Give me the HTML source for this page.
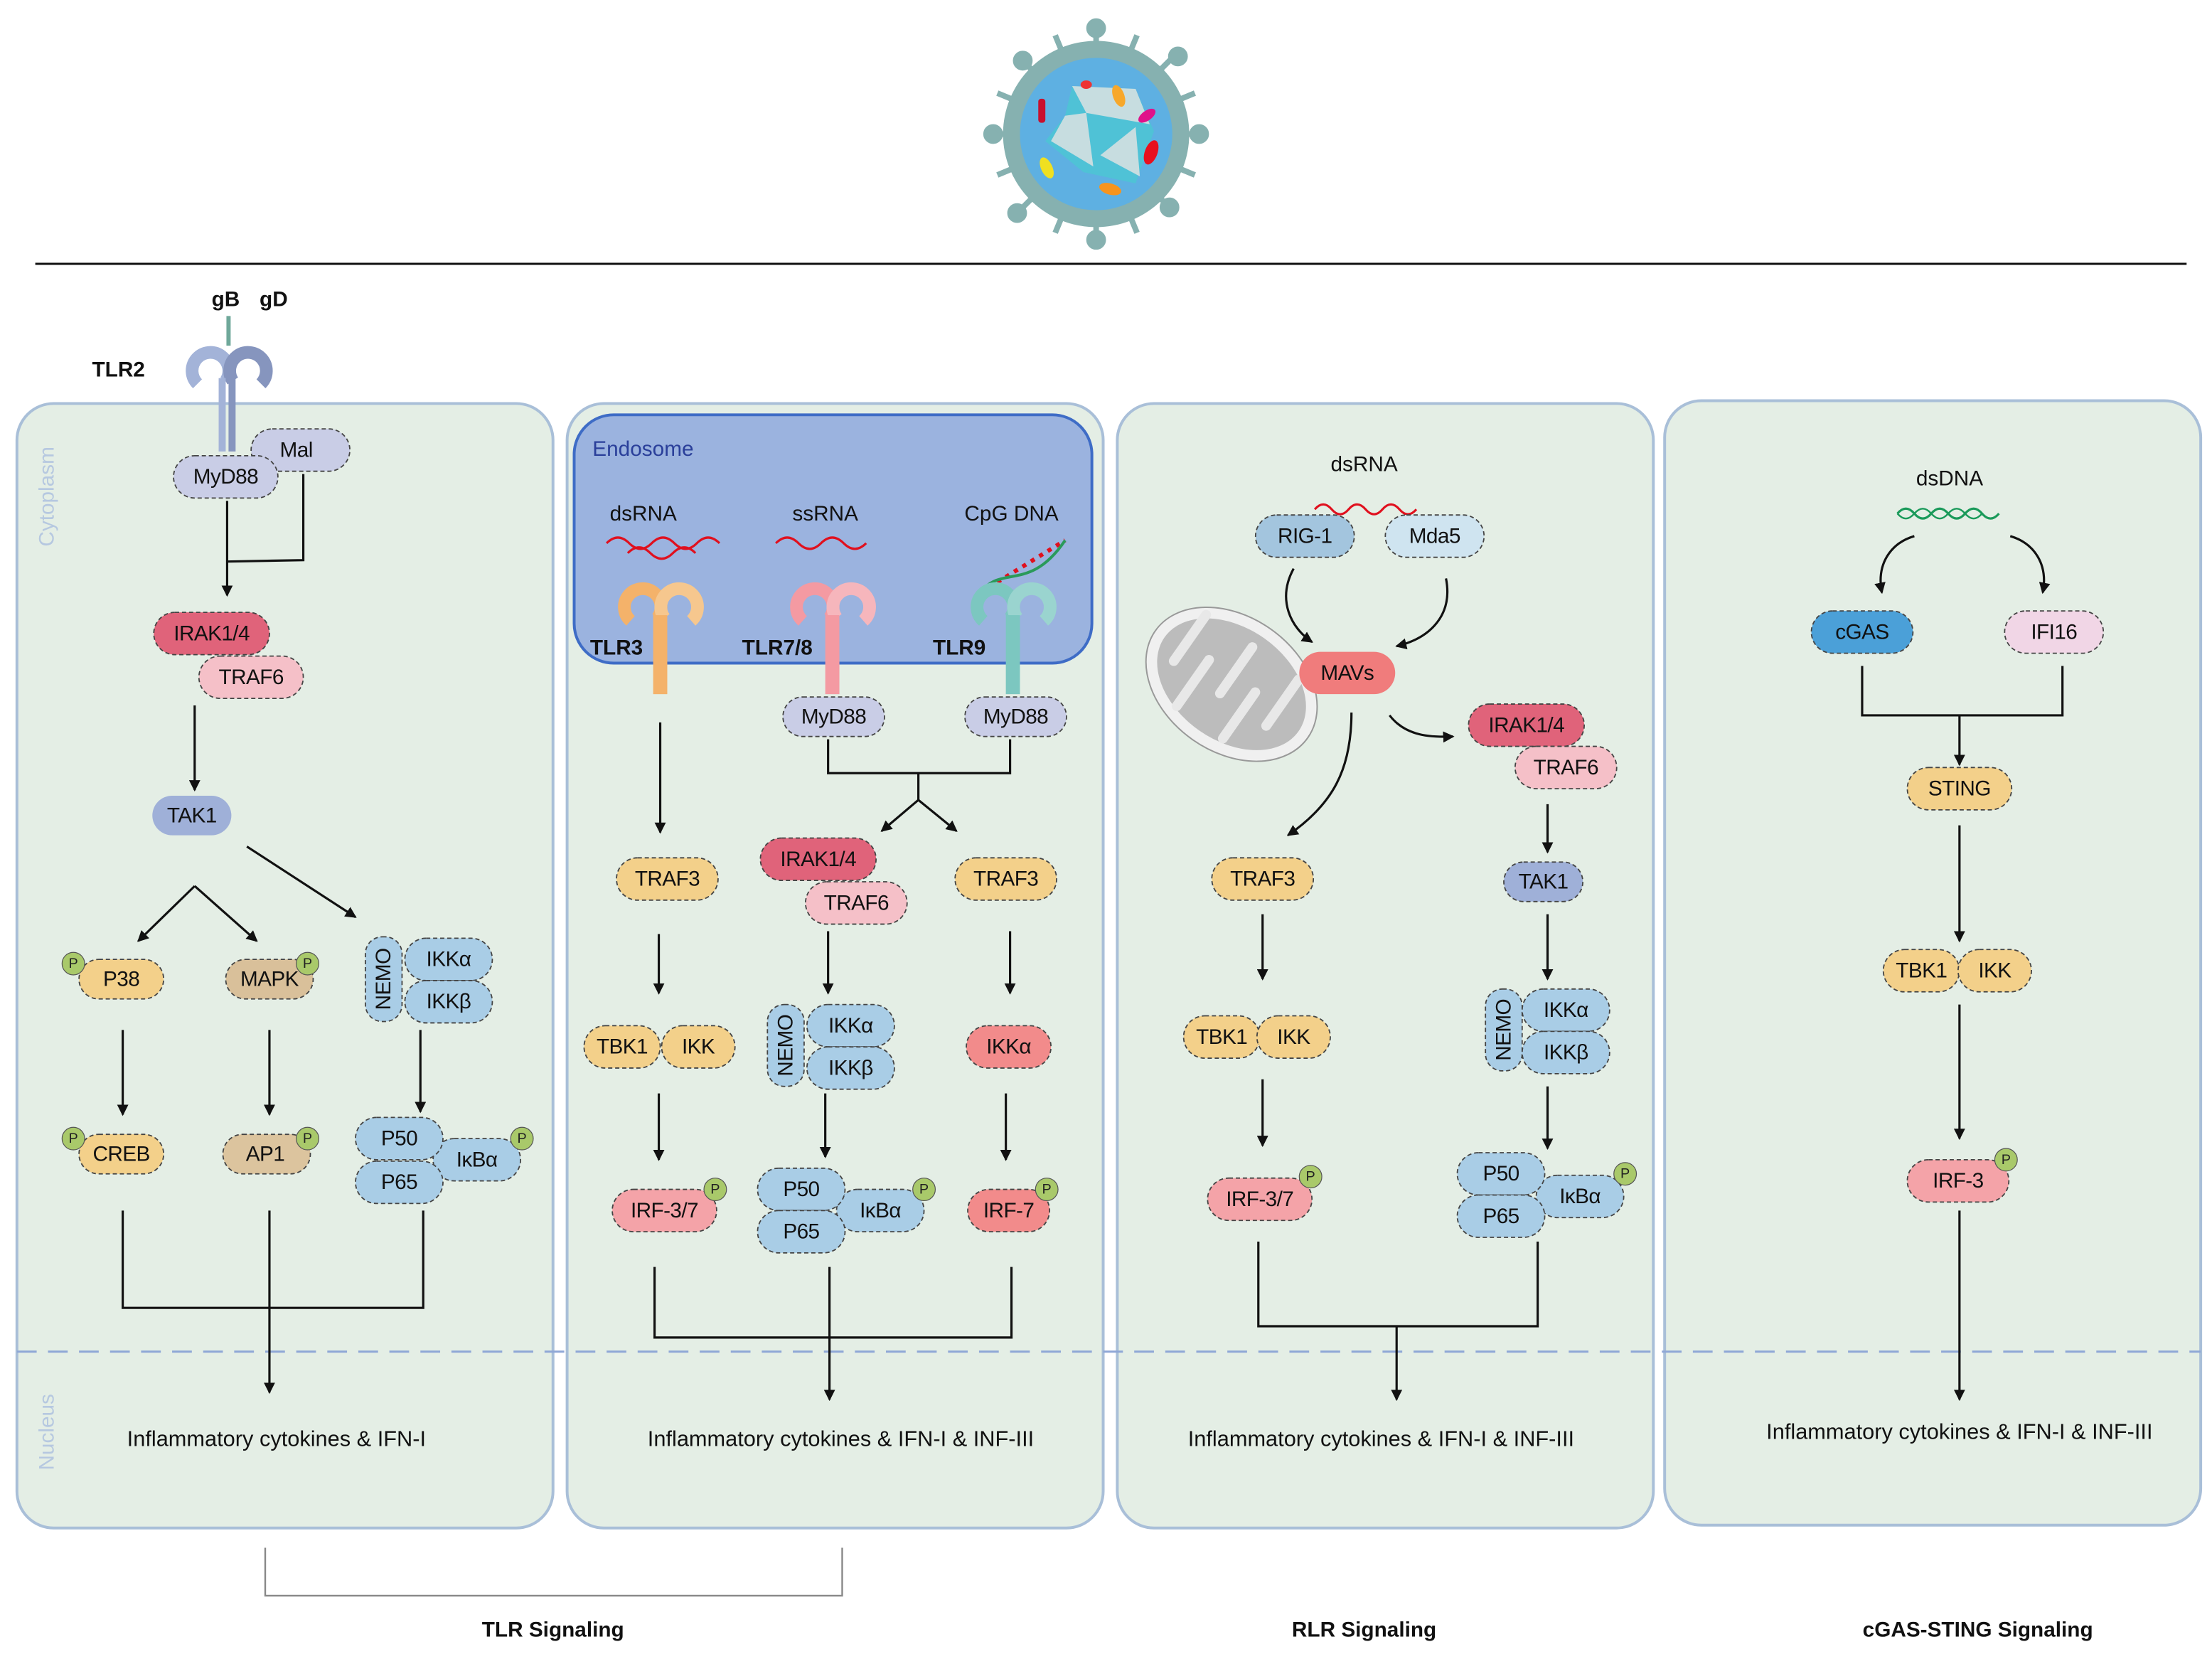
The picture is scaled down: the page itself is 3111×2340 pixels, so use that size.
<!DOCTYPE html>
<html><head><meta charset="utf-8">
<style>
html,body{margin:0;padding:0;background:#fff;}
svg{display:block;}
text{font-family:"Liberation Sans",sans-serif;}
.t{font-size:15px;fill:#111;text-anchor:middle;dominant-baseline:central;letter-spacing:-0.3px;}
.pill{stroke:#444;stroke-width:0.9;stroke-dasharray:3 2;}
.ln{stroke:#111;stroke-width:1.6;fill:none;}
.p{fill:#a9c96a;stroke:#555;stroke-width:0.6;}
.pt{font-size:10px;fill:#222;text-anchor:middle;dominant-baseline:central;}
.bt{font-size:15px;fill:#111;text-anchor:middle;font-weight:bold;}
.ot{font-size:15.5px;fill:#111;text-anchor:middle;}
</style></head><body>
<svg width="3111" height="2340" viewBox="0 0 1568 1179.4" preserveAspectRatio="none" xmlns="http://www.w3.org/2000/svg">
<defs>
<marker id="a" markerWidth="8" markerHeight="8" refX="7" refY="4" orient="auto" markerUnits="userSpaceOnUse"><path d="M0,0 L8,4 L0,8 z" fill="#111"/></marker>
</defs>
<rect width="1568" height="1180" fill="#fff"/>

<!-- virus -->
<g>
<g stroke="#86b1b0" stroke-width="4" fill="#86b1b0">
<line x1="777" y1="95" x2="777" y2="18"/><circle cx="777" cy="20" r="5"/>
<line x1="777" y1="95" x2="777" y2="172"/><circle cx="777" cy="170" r="5"/>
<line x1="777" y1="95" x2="700" y2="95"/><circle cx="704" cy="95" r="5"/>
<line x1="777" y1="95" x2="852" y2="95"/><circle cx="850" cy="95" r="5"/>
<line x1="777" y1="95" x2="723" y2="41"/><circle cx="725" cy="43" r="5"/>
<line x1="777" y1="95" x2="831" y2="149"/><circle cx="829" cy="147" r="5"/>
<line x1="777" y1="95" x2="831" y2="41"/><circle cx="835" cy="40" r="5"/>
<line x1="777" y1="95" x2="723" y2="149"/><circle cx="721" cy="151" r="5"/>
<line x1="777" y1="95" x2="748" y2="25"/><line x1="777" y1="95" x2="806" y2="25"/>
<line x1="777" y1="95" x2="748" y2="165"/><line x1="777" y1="95" x2="806" y2="165"/>
<line x1="777" y1="95" x2="707" y2="66"/><line x1="777" y1="95" x2="707" y2="124"/>
<line x1="777" y1="95" x2="847" y2="66"/><line x1="777" y1="95" x2="847" y2="124"/>
</g>
<circle cx="777" cy="95" r="66" fill="#86b1b0"/>
<circle cx="777" cy="95" r="54" fill="#5eb0e2"/>
<polygon points="760,61 805,63 818,93 805,130 768,122 741,100 755,82" fill="#4fc2d6"/>
<polygon points="760,61 805,63 815,88 770,80" fill="#c7dde0"/>
<polygon points="755,82 770,80 775,118 745,100" fill="#c7dde0"/>
<polygon points="780,110 805,90 808,125" fill="#c7dde0"/>
<rect x="736" y="70" width="5" height="17" rx="2" fill="#c8102e"/>
<ellipse cx="770" cy="60" rx="4" ry="3" fill="#e33"/>
<ellipse cx="793" cy="68" rx="4" ry="8" fill="#f7a82b" transform="rotate(-20 793 68)"/>
<ellipse cx="813" cy="82" rx="7" ry="3.5" fill="#e0118a" transform="rotate(-35 813 82)"/>
<ellipse cx="816" cy="108" rx="4.5" ry="9" fill="#e8101e" transform="rotate(20 816 108)"/>
<ellipse cx="742" cy="119" rx="4" ry="8" fill="#f0e020" transform="rotate(-25 742 119)"/>
<ellipse cx="787" cy="134" rx="8" ry="4" fill="#f7941d" transform="rotate(15 787 134)"/>
</g>
<line x1="25" y1="187" x2="1550" y2="187" stroke="#111" stroke-width="1.5"/>

<!-- panels -->
<g fill="#e4eee5" stroke="#a9bfd8" stroke-width="2">
<rect x="12" y="286" width="380" height="797" rx="26"/>
<rect x="402" y="286" width="380" height="797" rx="26"/>
<rect x="792" y="286" width="380" height="797" rx="26"/>
<rect x="1180" y="284" width="380" height="797" rx="26"/>
</g>
<line x1="12" y1="958" x2="1560" y2="958" stroke="#8fa7d6" stroke-width="1.5" stroke-dasharray="14 8"/>
<text transform="translate(38,352) rotate(-90)" style="font-size:15px;fill:#b6c8e0;text-anchor:middle">Cytoplasm</text>
<text transform="translate(38,1015) rotate(-90)" style="font-size:15px;fill:#b6c8e0;text-anchor:middle">Nucleus</text>

<!-- endosome -->
<rect x="407" y="294" width="367" height="176" rx="28" fill="#9bb3df" stroke="#3e6cc6" stroke-width="2"/>
<text x="420" y="323" style="font-size:15px;fill:#2a3f9a">Endosome</text>

<!-- Panel 1 -->
<text x="160" y="217" class="bt">gB</text><text x="194" y="217" class="bt">gD</text>
<text x="84" y="267" class="bt">TLR2</text>
<line x1="162" y1="224" x2="162" y2="245" stroke="#6fa89a" stroke-width="3"/>
<g fill="none" stroke-width="9">
<path d="M140,272 A13,13 0 1 1 160,270" stroke="#a3b3d8"/>
<path d="M165,270 A13,13 0 1 1 185,272" stroke="#8695be"/>
</g>
<rect x="155" y="268" width="5" height="52" fill="#a3b3d8"/><rect x="162" y="268" width="5" height="52" fill="#8695be"/>
<rect x="178" y="304" width="70" height="30" rx="15" fill="#c9cde6" class="pill"/><text x="210" y="319" class="t">Mal</text>
<rect x="123" y="323" width="74" height="30" rx="15" fill="#c9cde6" class="pill"/><text x="160" y="338" class="t">MyD88</text>
<line x1="161" y1="355" x2="161" y2="422" class="ln" marker-end="url(#a)"/>
<polyline points="215,336 215,397 161,398" class="ln"/>
<rect x="109" y="434" width="82" height="30" rx="15" fill="#e0637a" class="pill"/><text x="150" y="449" class="t">IRAK1/4</text>
<rect x="141" y="465" width="74" height="30" rx="15" fill="#f5c0c8" class="pill"/><text x="178" y="480" class="t">TRAF6</text>
<line x1="138" y1="500" x2="138" y2="560" class="ln" marker-end="url(#a)"/>
<rect x="108" y="564" width="56" height="28" rx="14" fill="#9fb0d8"/><text x="136" y="578" class="t">TAK1</text>
<line x1="138" y1="628" x2="98" y2="667" class="ln" marker-end="url(#a)"/>
<line x1="138" y1="628" x2="182" y2="667" class="ln" marker-end="url(#a)"/>
<line x1="175" y1="600" x2="252" y2="650" class="ln" marker-end="url(#a)"/>
<rect x="56" y="680" width="60" height="28" rx="14" fill="#f3d08a" class="pill"/><text x="86" y="694" class="t">P38</text>
<circle cx="52" cy="683" r="8" class="p"/><text x="52" y="683" class="pt">P</text>
<rect x="160" y="680" width="62" height="28" rx="14" fill="#d9c09a" class="pill"/><text x="191" y="694" class="t">MAPK</text>
<circle cx="218" cy="683" r="8" class="p"/><text x="218" y="683" class="pt">P</text>
<rect x="259" y="664" width="26" height="60" rx="12" fill="#a9cde6" class="pill"/>
<text transform="translate(272,694) rotate(-90)" class="t">NEMO</text>
<rect x="287" y="665" width="62" height="30" rx="15" fill="#a9cde6" class="pill"/><text x="318" y="680" class="t">IKKα</text>
<rect x="287" y="695" width="62" height="30" rx="15" fill="#a9cde6" class="pill"/><text x="318" y="710" class="t">IKKβ</text>
<line x1="87" y1="730" x2="87" y2="790" class="ln" marker-end="url(#a)"/>
<line x1="191" y1="730" x2="191" y2="790" class="ln" marker-end="url(#a)"/>
<line x1="298" y1="730" x2="298" y2="788" class="ln" marker-end="url(#a)"/>
<rect x="56" y="804" width="60" height="28" rx="14" fill="#f3d08a" class="pill"/><text x="86" y="818" class="t">CREB</text>
<circle cx="52" cy="807" r="8" class="p"/><text x="52" y="807" class="pt">P</text>
<rect x="158" y="804" width="62" height="28" rx="14" fill="#dcc49e" class="pill"/><text x="188" y="818" class="t">AP1</text>
<circle cx="218" cy="807" r="8" class="p"/><text x="218" y="807" class="pt">P</text>
<rect x="307" y="807" width="62" height="30" rx="15" fill="#a9cde6" class="pill"/><text x="338" y="822" class="t">IκBα</text>
<rect x="252" y="792" width="62" height="30" rx="15" fill="#a9cde6" class="pill"/><text x="283" y="807" class="t">P50</text>
<rect x="252" y="823" width="62" height="30" rx="15" fill="#a9cde6" class="pill"/><text x="283" y="838" class="t">P65</text>
<circle cx="370" cy="807" r="8" class="p"/><text x="370" y="807" class="pt">P</text>
<polyline points="87,858 87,927 300,927 300,858" class="ln"/>
<line x1="191" y1="858" x2="191" y2="987" class="ln" marker-end="url(#a)"/>
<text x="196" y="1025" class="ot">Inflammatory cytokines &amp; IFN-I</text>

<!-- Panel 2 -->
<text x="456" y="369" class="bt" style="font-weight:normal">dsRNA</text>
<text x="585" y="369" class="bt" style="font-weight:normal">ssRNA</text>
<text x="717" y="369" class="bt" style="font-weight:normal">CpG DNA</text>
<path d="M430,385 q8,-8 16,0 t16,0 t16,0 t16,0 t16,0 M445,392 q8,-8 16,0 t16,0 t16,0" stroke="#e0101e" stroke-width="1.6" fill="none"/>
<path d="M550,385 q8,-8 16,0 t16,0 t16,0 t16,0" stroke="#e0101e" stroke-width="1.6" fill="none"/>
<path d="M695,420 L755,383" stroke="#e0101e" stroke-width="3" stroke-dasharray="3 4"/>
<path d="M695,420 C710,400 730,420 755,383" stroke="#2a9a5a" stroke-width="2" fill="none"/>
<g fill="none" stroke-width="9">
<path d="M447,440 A13,13 0 1 1 466,438" stroke="#f4b26a"/><path d="M471,438 A13,13 0 1 1 490,440" stroke="#f6c78e"/>
<path d="M569,440 A13,13 0 1 1 588,438" stroke="#f49aa2"/><path d="M593,438 A13,13 0 1 1 612,440" stroke="#f6b6bc"/>
<path d="M697,440 A13,13 0 1 1 716,438" stroke="#7cc7c0"/><path d="M721,438 A13,13 0 1 1 740,440" stroke="#9ad4cf"/>
</g>
<rect x="463" y="436" width="10" height="56" fill="#f4b26a"/><rect x="585" y="436" width="10" height="56" fill="#f49aa2"/><rect x="713" y="436" width="10" height="56" fill="#7cc7c0"/>
<text x="437" y="464" class="bt">TLR3</text><text x="551" y="464" class="bt">TLR7/8</text><text x="680" y="464" class="bt">TLR9</text>
<line x1="468" y1="512" x2="468" y2="590" class="ln" marker-end="url(#a)"/>
<rect x="555" y="494" width="72" height="28" rx="14" fill="#c9cde6" class="pill"/><text x="591" y="508" class="t">MyD88</text>
<rect x="684" y="494" width="72" height="28" rx="14" fill="#c9cde6" class="pill"/><text x="720" y="508" class="t">MyD88</text>
<polyline points="587,524 587,548 716,548 716,524" class="ln"/>
<line x1="651" y1="548" x2="651" y2="567" class="ln"/>
<line x1="651" y1="567" x2="625" y2="589" class="ln" marker-end="url(#a)"/>
<line x1="651" y1="567" x2="678" y2="589" class="ln" marker-end="url(#a)"/>
<rect x="437" y="608" width="72" height="30" rx="15" fill="#f3d08a" class="pill"/><text x="473" y="623" class="t">TRAF3</text>
<rect x="539" y="594" width="82" height="30" rx="15" fill="#e0637a" class="pill"/><text x="580" y="609" class="t">IRAK1/4</text>
<rect x="571" y="625" width="72" height="30" rx="15" fill="#f5c0c8" class="pill"/><text x="607" y="640" class="t">TRAF6</text>
<rect x="677" y="608" width="72" height="30" rx="15" fill="#f3d08a" class="pill"/><text x="713" y="623" class="t">TRAF3</text>
<line x1="467" y1="662" x2="467" y2="704" class="ln" marker-end="url(#a)"/>
<line x1="587" y1="660" x2="587" y2="704" class="ln" marker-end="url(#a)"/>
<line x1="716" y1="660" x2="716" y2="704" class="ln" marker-end="url(#a)"/>
<rect x="414" y="727" width="54" height="30" rx="15" fill="#f3d08a" class="pill"/><text x="441" y="742" class="t">TBK1</text>
<rect x="469" y="727" width="52" height="30" rx="15" fill="#f3d08a" class="pill"/><text x="495" y="742" class="t">IKK</text>
<rect x="544" y="712" width="26" height="58" rx="12" fill="#a9cde6" class="pill"/>
<text transform="translate(557,741) rotate(-90)" class="t">NEMO</text>
<rect x="572" y="712" width="62" height="30" rx="15" fill="#a9cde6" class="pill"/><text x="603" y="727" class="t">IKKα</text>
<rect x="572" y="742" width="62" height="30" rx="15" fill="#a9cde6" class="pill"/><text x="603" y="757" class="t">IKKβ</text>
<rect x="685" y="727" width="60" height="30" rx="15" fill="#f28b8b" class="pill"/><text x="715" y="742" class="t">IKKα</text>
<line x1="467" y1="775" x2="467" y2="822" class="ln" marker-end="url(#a)"/>
<line x1="585" y1="775" x2="585" y2="820" class="ln" marker-end="url(#a)"/>
<line x1="713" y1="775" x2="713" y2="822" class="ln" marker-end="url(#a)"/>
<rect x="434" y="843" width="74" height="30" rx="15" fill="#f4a3a8" class="pill"/><text x="471" y="858" class="t">IRF-3/7</text>
<circle cx="507" cy="843" r="8" class="p"/><text x="507" y="843" class="pt">P</text>
<rect x="593" y="843" width="62" height="30" rx="15" fill="#a9cde6" class="pill"/><text x="624" y="858" class="t">IκBα</text>
<rect x="537" y="828" width="62" height="30" rx="15" fill="#a9cde6" class="pill"/><text x="568" y="843" class="t">P50</text>
<rect x="537" y="858" width="62" height="30" rx="15" fill="#a9cde6" class="pill"/><text x="568" y="873" class="t">P65</text>
<circle cx="655" cy="843" r="8" class="p"/><text x="655" y="843" class="pt">P</text>
<rect x="686" y="843" width="58" height="30" rx="15" fill="#f28b8b" class="pill"/><text x="715" y="858" class="t">IRF-7</text>
<circle cx="742" cy="843" r="8" class="p"/><text x="742" y="843" class="pt">P</text>
<polyline points="464,898 464,948 717,948 717,898" class="ln"/>
<line x1="588" y1="898" x2="588" y2="992" class="ln" marker-end="url(#a)"/>
<text x="596" y="1025" class="ot">Inflammatory cytokines &amp; IFN-I &amp; INF-III</text>

<!-- Panel 3 -->
<text x="967" y="334" class="bt" style="font-weight:normal">dsRNA</text>
<path d="M932,361 q6,-7 12,0 t12,0 t12,0 t12,0 t12,0 t12,0" stroke="#e0101e" stroke-width="1.6" fill="none"/>
<rect x="890" y="365" width="70" height="30" rx="15" fill="#a3c5de" class="pill"/><text x="925" y="380" class="t">RIG-1</text>
<rect x="982" y="365" width="70" height="30" rx="15" fill="#cfe4f0" class="pill"/><text x="1017" y="380" class="t">Mda5</text>
<g transform="rotate(35 873 485)">
<ellipse cx="873" cy="485" rx="66" ry="48" fill="#f0f0f0" stroke="#999" stroke-width="1"/>
<ellipse cx="873" cy="485" rx="58" ry="40" fill="#bcbcbc"/>
<path d="M830,455 v40 M850,520 v-40 M870,455 v40 M890,520 v-40 M910,455 v40" stroke="#e8e8e8" stroke-width="7" stroke-linecap="round"/>
</g>
<path d="M917,403 C905,425 915,445 930,455" class="ln" marker-end="url(#a)"/>
<path d="M1025,410 C1030,435 1015,452 990,458" class="ln" marker-end="url(#a)"/>
<rect x="921" y="462" width="68" height="30" rx="15" fill="#f07c7c"/><text x="955" y="477" class="t">MAVs</text>
<path d="M958,505 C958,545 945,570 913,592" class="ln" marker-end="url(#a)"/>
<path d="M985,507 C995,520 1010,523 1030,522" class="ln" marker-end="url(#a)"/>
<rect x="1041" y="499" width="82" height="30" rx="15" fill="#e0637a" class="pill"/><text x="1082" y="514" class="t">IRAK1/4</text>
<rect x="1074" y="529" width="72" height="30" rx="15" fill="#f5c0c8" class="pill"/><text x="1110" y="544" class="t">TRAF6</text>
<line x1="1097" y1="570" x2="1097" y2="604" class="ln" marker-end="url(#a)"/>
<rect x="1066" y="611" width="56" height="28" rx="14" fill="#9fb0d8" class="pill"/><text x="1094" y="625" class="t">TAK1</text>
<rect x="859" y="608" width="72" height="30" rx="15" fill="#f3d08a" class="pill"/><text x="895" y="623" class="t">TRAF3</text>
<line x1="895" y1="648" x2="895" y2="694" class="ln" marker-end="url(#a)"/>
<rect x="839" y="720" width="54" height="30" rx="15" fill="#f3d08a" class="pill"/><text x="866" y="735" class="t">TBK1</text>
<rect x="891" y="720" width="52" height="30" rx="15" fill="#f3d08a" class="pill"/><text x="917" y="735" class="t">IKK</text>
<line x1="895" y1="765" x2="895" y2="812" class="ln" marker-end="url(#a)"/>
<rect x="856" y="835" width="74" height="30" rx="15" fill="#f4a3a8" class="pill"/><text x="893" y="850" class="t">IRF-3/7</text>
<circle cx="929" cy="834" r="8" class="p"/><text x="929" y="834" class="pt">P</text>
<line x1="1097" y1="648" x2="1097" y2="694" class="ln" marker-end="url(#a)"/>
<rect x="1053" y="701" width="26" height="58" rx="12" fill="#a9cde6" class="pill"/>
<text transform="translate(1066,730) rotate(-90)" class="t">NEMO</text>
<rect x="1079" y="701" width="62" height="30" rx="15" fill="#a9cde6" class="pill"/><text x="1110" y="716" class="t">IKKα</text>
<rect x="1079" y="731" width="62" height="30" rx="15" fill="#a9cde6" class="pill"/><text x="1110" y="746" class="t">IKKβ</text>
<line x1="1097" y1="770" x2="1097" y2="814" class="ln" marker-end="url(#a)"/>
<rect x="1089" y="833" width="62" height="30" rx="15" fill="#a9cde6" class="pill"/><text x="1120" y="848" class="t">IκBα</text>
<rect x="1033" y="817" width="62" height="30" rx="15" fill="#a9cde6" class="pill"/><text x="1064" y="832" class="t">P50</text>
<rect x="1033" y="847" width="62" height="30" rx="15" fill="#a9cde6" class="pill"/><text x="1064" y="862" class="t">P65</text>
<circle cx="1152" cy="832" r="8" class="p"/><text x="1152" y="832" class="pt">P</text>
<polyline points="892,880 892,940 1090,940 1090,880" class="ln"/>
<line x1="990" y1="940" x2="990" y2="992" class="ln" marker-end="url(#a)"/>
<text x="979" y="1025" class="ot">Inflammatory cytokines &amp; IFN-I &amp; INF-III</text>

<!-- Panel 4 -->
<text x="1382" y="344" class="bt" style="font-weight:normal">dsDNA</text>
<path d="M1345,364 q6,-7 12,0 t12,0 t12,0 t12,0 t12,0 t12,0" stroke="#1a9a5a" stroke-width="1.6" fill="none"/>
<path d="M1345,364 q6,7 12,0 t12,0 t12,0 t12,0 t12,0" stroke="#1a9a5a" stroke-width="1.2" fill="none"/>
<path d="M1357,380 C1340,385 1330,400 1334,420" class="ln" marker-end="url(#a)"/>
<path d="M1425,380 C1442,385 1452,400 1448,420" class="ln" marker-end="url(#a)"/>
<rect x="1284" y="433" width="72" height="30" rx="15" fill="#4ba0d8" class="pill"/><text x="1320" y="448" class="t">cGAS</text>
<rect x="1421" y="433" width="70" height="30" rx="15" fill="#f1d6e6" class="pill"/><text x="1456" y="448" class="t">IFI16</text>
<polyline points="1320,472 1320,507 1462,507 1462,472" class="ln"/>
<line x1="1389" y1="507" x2="1389" y2="542" class="ln" marker-end="url(#a)"/>
<rect x="1352" y="544" width="74" height="30" rx="15" fill="#f3d08a" class="pill"/><text x="1389" y="559" class="t">STING</text>
<line x1="1389" y1="585" x2="1389" y2="667" class="ln" marker-end="url(#a)"/>
<rect x="1335" y="673" width="54" height="30" rx="15" fill="#f3d08a" class="pill"/><text x="1362" y="688" class="t">TBK1</text>
<rect x="1388" y="673" width="52" height="30" rx="15" fill="#f3d08a" class="pill"/><text x="1414" y="688" class="t">IKK</text>
<line x1="1389" y1="712" x2="1389" y2="807" class="ln" marker-end="url(#a)"/>
<rect x="1352" y="822" width="72" height="30" rx="15" fill="#f4a3a8" class="pill"/><text x="1388" y="837" class="t">IRF-3</text>
<circle cx="1422" cy="822" r="8" class="p"/><text x="1422" y="822" class="pt">P</text>
<line x1="1389" y1="858" x2="1389" y2="992" class="ln" marker-end="url(#a)"/>
<text x="1389" y="1020" class="ot">Inflammatory cytokines &amp; IFN-I &amp; INF-III</text>

<!-- bottom -->
<polyline points="188,1097 188,1131 597,1131 597,1097" fill="none" stroke="#888" stroke-width="1.2"/>
<text x="392" y="1160" class="bt">TLR Signaling</text>
<text x="967" y="1160" class="bt">RLR Signaling</text>
<text x="1402" y="1160" class="bt">cGAS-STING Signaling</text>
</svg>
</body></html>
